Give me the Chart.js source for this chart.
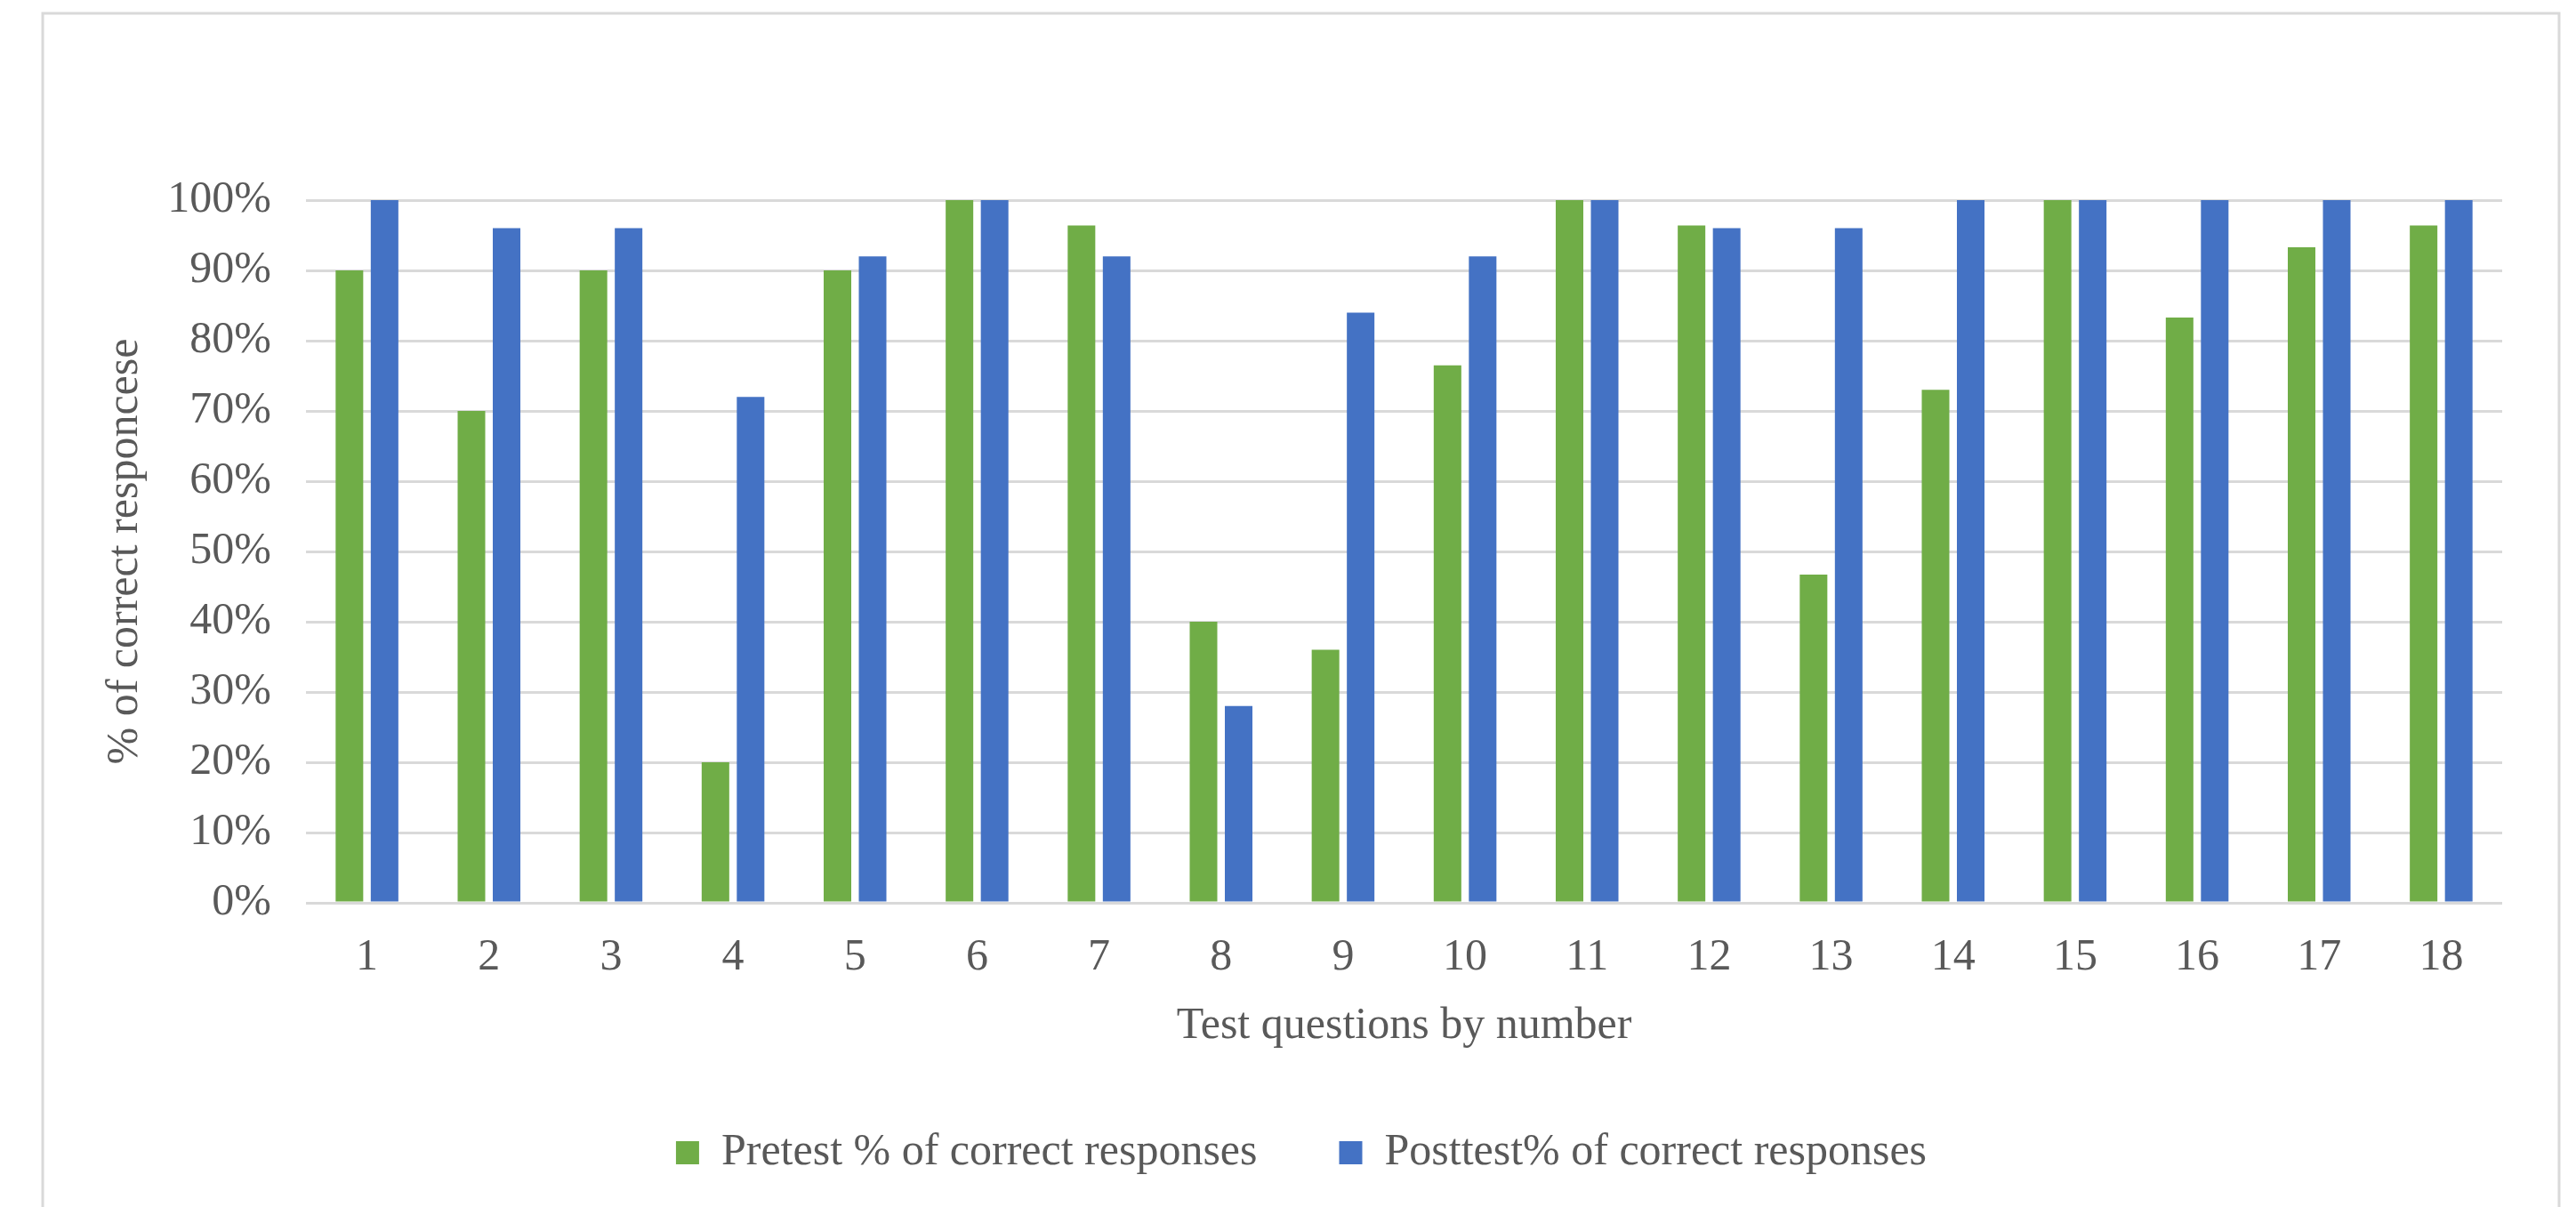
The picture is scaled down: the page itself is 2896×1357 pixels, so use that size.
<!DOCTYPE html>
<html>
<head>
<meta charset="utf-8">
<script src="https://cdn.jsdelivr.net/npm/chart.js@4"></script>
<style>
  html, body { margin: 0; padding: 0; background: #fff; }
  #wrap { width: 2896px; height: 1357px; }
</style>
</head>
<body>
<div id="wrap"><canvas id="chart"></canvas></div>
<script>
// question numbers on the x axis
const questions = ["1", "2", "3", "4", "5", "6", "7", "8", "9", "10", "11", "12", "13", "14", "15", "16", "17", "18"];

// % of correct responses
const pretest = [90, 70, 90, 20, 90, 100, 96.4, 40, 36, 76.5, 100, 96.4, 46.7, 73, 100, 83.3, 93.3, 96.4];
const posttest = [100, 96, 96, 72, 92, 100, 92, 28, 84, 92, 100, 96, 96, 100, 100, 100, 100, 100];

const yTicks = [0, 10, 20, 30, 40, 50, 60, 70, 80, 90, 100];

const textColor = "#595959";
const gridColor = "#d9d9d9";
const font = { family: "'Liberation Serif', 'Times New Roman', serif", size: 50 };

// white page with the light grey frame around the chart
const framePlugin = {
  id: "frame",
  beforeDraw: function (chart) {
    const c = chart.ctx;
    c.save();
    c.fillStyle = "#fff";
    c.fillRect(0, 0, chart.width, chart.height);
    c.strokeStyle = gridColor;
    c.lineWidth = 3;
    c.strokeRect(48, 15, 2829, 1400);
    c.restore();
  },
};

new Chart(document.getElementById("chart"), {
  type: "bar",
  data: {
    labels: questions,
    datasets: [
      {
        label: "Pretest % of correct responses",
        data: pretest,
        backgroundColor: "#70AD47",
        categoryPercentage: 0.576,
        barPercentage: 0.785,
      },
      {
        label: "Posttest% of correct responses",
        data: posttest,
        backgroundColor: "#4472C4",
        categoryPercentage: 0.576,
        barPercentage: 0.785,
      },
    ],
  },
  options: {
    responsive: true,
    maintainAspectRatio: false,
    animation: false,
    layout: {
      padding: { top: 225, left: 113, right: 83, bottom: 26 },
    },
    plugins: {
      legend: {
        position: "bottom",
        labels: {
          boxWidth: 26,
          boxHeight: 26,
          padding: 92,
          color: textColor,
          font: font,
        },
      },
      tooltip: { enabled: false },
    },
    scales: {
      x: {
        grid: { display: false },
        border: { display: false },
        ticks: { color: textColor, font: font, padding: 24, maxRotation: 0 },
        title: {
          display: true,
          text: "Test questions by number",
          color: textColor,
          font: Object.assign({ lineHeight: 1 }, font),
          padding: 0,
        },
        afterFit: function (scale) {
          scale.height = 164;
        },
      },
      y: {
        min: 0,
        max: 100,
        grid: { color: gridColor, lineWidth: 3, drawTicks: false },
        border: { display: false },
        afterBuildTicks: function (scale) {
          scale.ticks = yTicks.map((v) => ({ value: v }));
        },
        ticks: {
          color: textColor,
          font: font,
          padding: 39,
          callback: function (value) {
            return value + "%";
          },
        },
        title: {
          display: true,
          text: "% of correct responcese",
          color: textColor,
          font: Object.assign({ lineHeight: 1 }, font),
          padding: { top: 3, bottom: 0 },
        },
        afterFit: function (scale) {
          scale.width = 231;
        },
      },
    },
  },
  plugins: [framePlugin],
});
</script>
</body>
</html>
